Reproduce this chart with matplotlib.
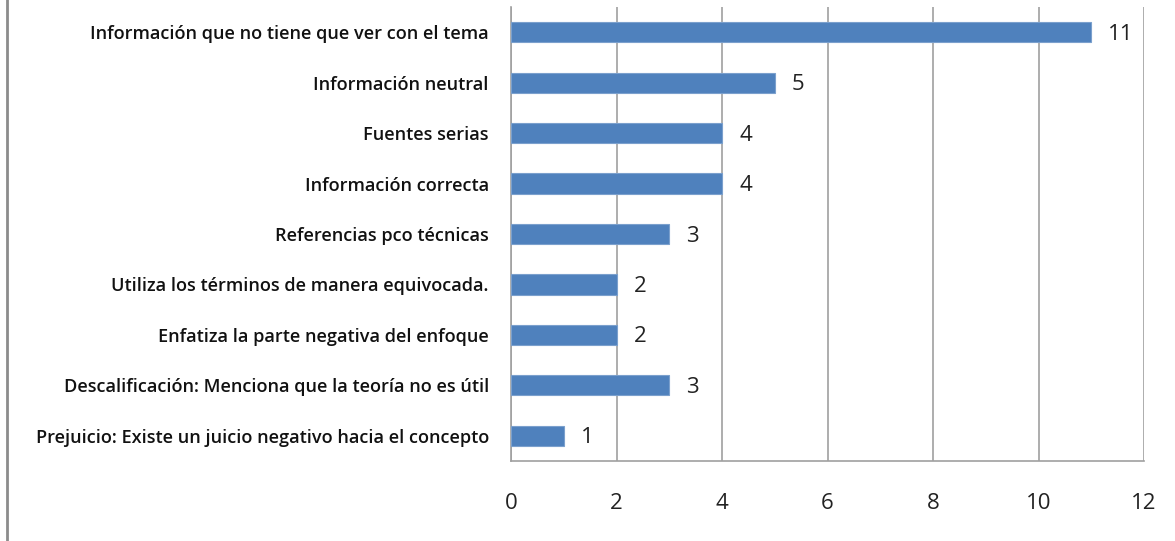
import matplotlib
matplotlib.use("Agg")
import matplotlib.pyplot as plt
from matplotlib.lines import Line2D

categories = [
    "Información que no tiene que ver con el tema",
    "Información neutral",
    "Fuentes serias",
    "Información correcta",
    "Referencias pco técnicas",
    "Utiliza los términos de manera equivocada.",
    "Enfatiza la parte negativa del enfoque",
    "Descalificación: Menciona que la teoría no es útil",
    "Prejuicio: Existe un juicio negativo hacia el concepto",
]
values = [11, 5, 4, 4, 3, 2, 2, 3, 1]
xticks = [0, 2, 4, 6, 8, 10, 12]

fig = plt.figure(figsize=(11.75, 5.41), dpi=100)
ax = fig.add_axes([511/1175, 1-461/541, (1144-511)/1175, (461-7)/541])

ypos = list(range(len(categories)))[::-1]
ax.barh(ypos, values, height=0.4, color="#4F81BD", edgecolor="#7BA0CD", linewidth=0.8, zorder=3)
for y, v in zip(ypos, values):
    ax.annotate(str(v), (v, y), xytext=(17, -2), textcoords="offset pixels",
                ha="left", va="center", fontsize=16, family="Open Sans", color="#222222")

ax.set_xlim(0, 12)
ax.set_ylim(-0.5, len(categories) - 0.5)
ax.set_xticks(xticks)
ax.set_xticklabels([str(t) for t in xticks], fontsize=16, family="Open Sans", color="#222222")
ax.set_yticks(ypos)
ax.set_yticklabels(categories, fontsize=13.1, family="Open Sans", fontweight="semibold", color="#111111")
ax.tick_params(axis="x", length=0, pad=23)
ax.tick_params(axis="y", length=0, pad=16)
ax.grid(axis="x", color="#A0A0A0", linewidth=1.2, zorder=0)
for s in ["top", "right"]:
    ax.spines[s].set_visible(False)
for s in ["left", "bottom"]:
    ax.spines[s].set_color("#A0A0A0")
    ax.spines[s].set_linewidth(1.2)

fig.add_artist(Line2D([7/1175, 7/1175], [0, 1], color="#8C8C8C", linewidth=2, transform=fig.transFigure))

fig.savefig("out.png", dpi=100)
